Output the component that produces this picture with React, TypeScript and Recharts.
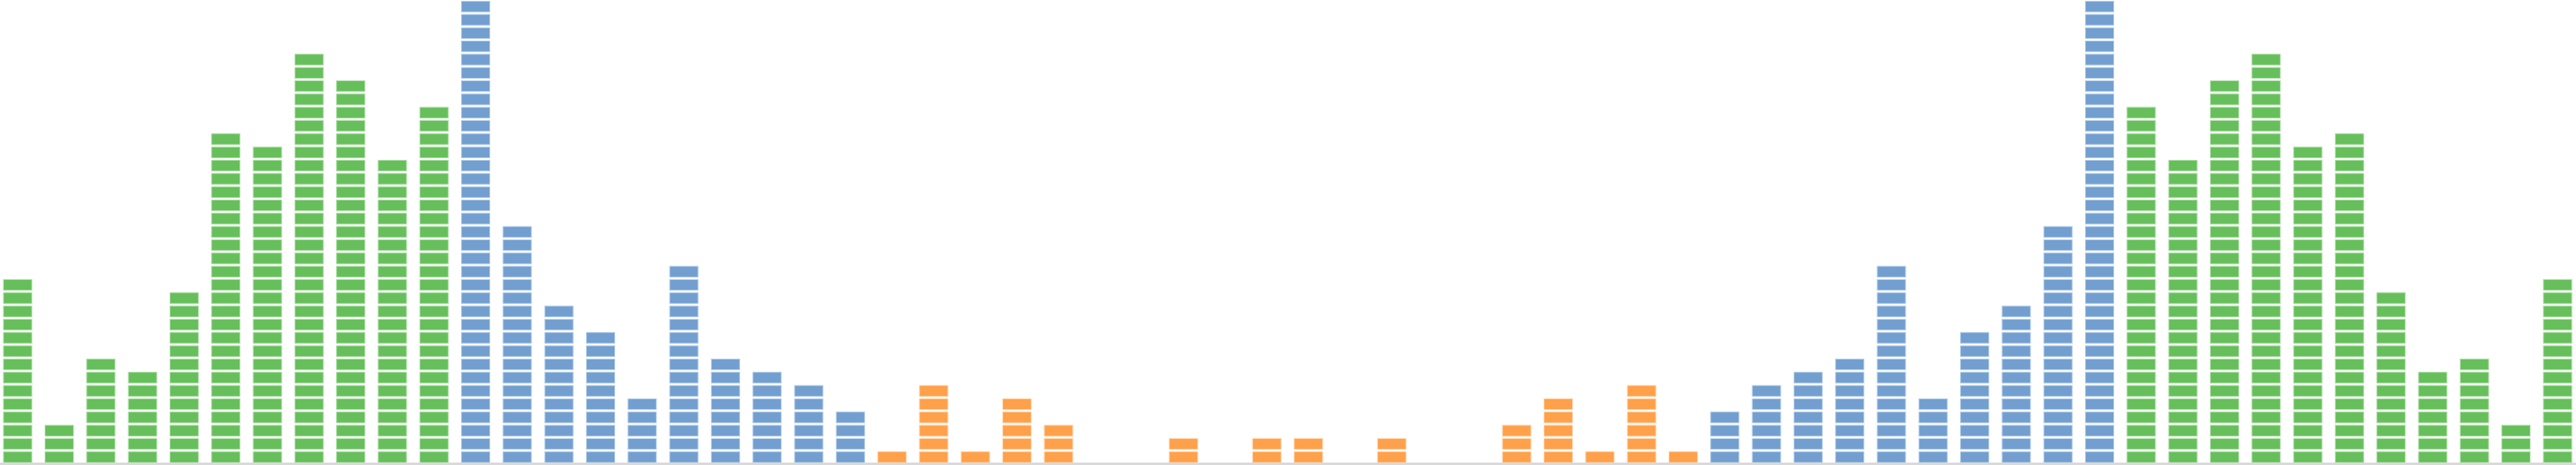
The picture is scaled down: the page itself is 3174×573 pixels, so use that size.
import { BarChart, Bar, XAxis, YAxis } from "recharts";

// one value per column, left to right (each unit is one block)
const counts = [
  14, 3, 8, 7, 13, 25, 24, 31, 29, 23, 27, 35, 18, 12, 10, 5, 15, 8, 7, 6, 4,
  1, 6, 1, 5, 3, 0, 0, 2, 0, 2, 2, 0, 2, 0, 0, 3, 5, 1, 6, 1,
  4, 6, 7, 8, 15, 5, 10, 12, 18, 35, 27, 23, 29, 31, 24, 25, 13, 7, 8, 3, 14,
];

// colour groups as runs of consecutive columns
const groupRuns: [string, number][] = [
  ["green", 11],
  ["blue", 10],
  ["orange", 20],
  ["blue", 10],
  ["green", 11],
];

const colors: Record<string, { fill: string; edge: string }> = {
  green: { fill: "#66bf5b", edge: "#b3e0ac" },
  blue: { fill: "#729fcf", edge: "#bcd2ea" },
  orange: { fill: "#ffa04a", edge: "#ffd2a8" },
};

const groups = groupRuns.flatMap(([g, n]) => Array(n).fill(g) as string[]);

const data = counts.map((value, i) => ({
  name: String(i + 1),
  value,
  group: groups[i],
}));

const BlockBar = (props: any) => {
  const { x, y, width, height, payload } = props;
  const n = payload.value;
  if (!n || !height) return null;
  const unit = height / n;
  const c = colors[payload.group];
  return (
    <g>
      {Array.from({ length: n }, (_, k) => (
        <rect
          key={k}
          x={x + 0.5}
          y={y + k * unit + 1.5}
          width={width - 1}
          height={unit - 3}
          fill={c.fill}
          stroke={c.edge}
          strokeWidth={1}
        />
      ))}
    </g>
  );
};

export default function App() {
  return (
    <div style={{ width: 3174, height: 573, overflow: "hidden", background: "#fff" }}>
      <style>{`body{margin:0;overflow:hidden}`}</style>
      <div style={{ marginLeft: -4 }}>
        <BarChart
          width={3181}
          height={573}
          data={data}
          margin={{ top: 0, right: 0, bottom: 0, left: 0 }}
          barCategoryGap="15%"
        >
          <XAxis
            dataKey="name"
            height={1.5}
            tick={false}
            tickLine={false}
            axisLine={{ stroke: "#d9d9d9", strokeWidth: 3 }}
          />
          <YAxis hide domain={[0, 35]} />
          <Bar dataKey="value" shape={BlockBar} isAnimationActive={false} />
        </BarChart>
      </div>
    </div>
  );
}
